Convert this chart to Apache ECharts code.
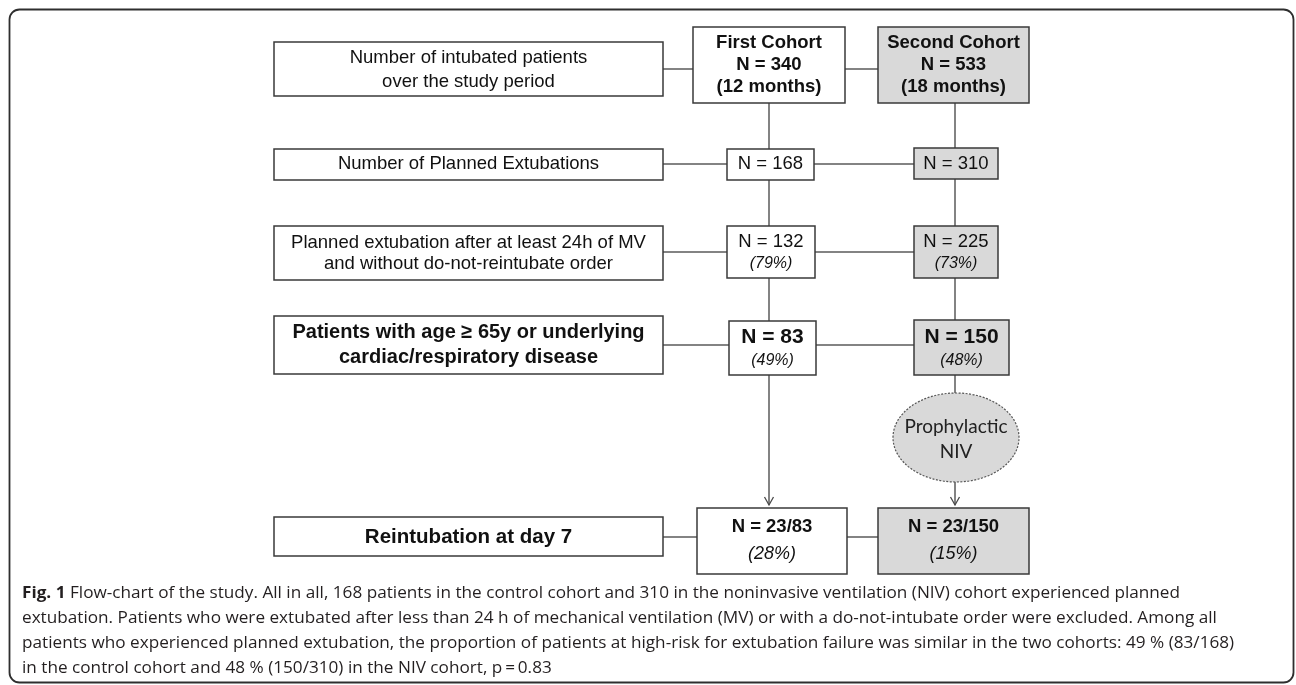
<!DOCTYPE html>
<html><head><meta charset="utf-8">
<script src="https://cdn.jsdelivr.net/npm/echarts@6/dist/echarts.min.js"></script>
<style>html,body{margin:0;padding:0;background:#fff;}#c{width:1296px;height:685px;}</style>
</head><body><div id="c"></div>
<script>
// ---------- DATA ----------
const rowLabels = [
  ['Number of intubated patients', 'over the study period'],
  ['Number of Planned Extubations'],
  ['Planned extubation after at least 24h of MV', 'and without do-not-reintubate order'],
  ['Patients with age \u2265 65y or underlying', 'cardiac/respiratory disease'],
  ['Reintubation at day 7']
];
const cohortNames = ['First Cohort', 'Second Cohort'];
const cohortMonths = [12, 18];
const firstCohortN = ['340', '168', '132', '83', '23/83'];
const firstCohortPct = [null, null, 79, 49, 28];
const secondCohortN = ['533', '310', '225', '150', '23/150'];
const secondCohortPct = [null, null, 73, 48, 15];
const interventionLabel = ['Prophylactic', 'NIV'];
const captionBold = 'Fig. 1';
const captionLines = [
  'Flow-chart of the study. All in all, 168 patients in the control cohort and 310 in the noninvasive ventilation (NIV) cohort experienced planned',
  'extubation. Patients who were extubated after less than 24 h of mechanical ventilation (MV) or with a do-not-intubate order were excluded. Among all',
  'patients who experienced planned extubation, the proportion of patients at high-risk for extubation failure was similar in the two cohorts: 49 % (83/168)',
  'in the control cohort and 48 % (150/310) in the NIV cohort, p\u2009=\u20090.83'
];

// ---------- LAYOUT ----------
const W = 1296, H = 685;
const AR = '"Liberation Sans", Arial, sans-serif';
const labelX = [274, 663];
const labelRowY = [[42, 96], [149, 180], [226, 280], [316, 374], [517, 556]];
const labelTextY = [[58, 82], [164], [243, 264], [332, 357], [537]];
const labelFont = ['18.5px ' + AR, '18.5px ' + AR, '18.5px ' + AR, 'bold 20px ' + AR, 'bold 20.5px ' + AR];
const cohortBoxes = [
  [[693, 845, 27, 103], [727, 814, 149, 180], [727, 815, 226, 278], [729, 816, 321, 375], [697, 847, 508, 574]],
  [[878, 1029, 27, 103], [914, 998, 148, 179], [914, 998, 226, 278], [914, 1009, 320, 375], [878, 1029, 508, 574]]
];
const cohortFill = ['#ffffff', '#d9d9d9'];
const nFont = ['bold 18.5px ' + AR, '18.5px ' + AR, '18.5px ' + AR, 'bold 21px ' + AR, 'bold 18.5px ' + AR];
const pctFont = [null, null, 'italic 16px ' + AR, 'italic 16px ' + AR, 'italic 18px ' + AR];
const nY = [[43, 65, 87], [164], [242, 264], [337, 361], [527, 554]];

// build nodes
const nodes = [];
rowLabels.forEach((lines, r) => {
  nodes.push({
    box: [labelX[0], labelX[1], labelRowY[r][0], labelRowY[r][1]], fill: '#ffffff',
    texts: lines.map((t, i) => ({ text: t, y: labelTextY[r][i], font: labelFont[r] }))
  });
});
const cohortN = [firstCohortN, secondCohortN];
const cohortPct = [firstCohortPct, secondCohortPct];
for (let c = 0; c < 2; c++) {
  for (let r = 0; r < 5; r++) {
    const b = cohortBoxes[c][r];
    const texts = [];
    if (r === 0) {
      texts.push({ text: cohortNames[c], y: nY[0][0], font: nFont[0] });
      texts.push({ text: 'N = ' + cohortN[c][0], y: nY[0][1], font: nFont[0] });
      texts.push({ text: '(' + cohortMonths[c] + ' months)', y: nY[0][2], font: nFont[0] });
    } else {
      texts.push({ text: 'N = ' + cohortN[c][r], y: nY[r][0], font: nFont[r] });
      if (cohortPct[c][r] !== null) texts.push({ text: '(' + cohortPct[c][r] + '%)', y: nY[r][1], font: pctFont[r] });
    }
    nodes.push({ box: b, fill: cohortFill[c], texts });
  }
}

// connectors [x0,y0,x1,y1,arrow]
const xc1 = 769, xc2 = 955;
const links = [
  [663, 69, 693, 69, 0], [845, 69, 878, 69, 0],
  [663, 164, 727, 164, 0], [814, 164, 914, 164, 0],
  [663, 252, 727, 252, 0], [815, 252, 914, 252, 0],
  [663, 345, 729, 345, 0], [816, 345, 914, 345, 0],
  [663, 537, 697, 537, 0], [847, 537, 878, 537, 0],
  [xc1, 103, xc1, 149, 0], [xc1, 180, xc1, 226, 0], [xc1, 278, xc1, 321, 0], [xc1, 375, xc1, 505, 1],
  [xc2, 103, xc2, 148, 0], [xc2, 179, xc2, 226, 0], [xc2, 278, xc2, 320, 0], [xc2, 375, xc2, 393, 0], [xc2, 482, xc2, 505, 1]
];
const ellipseGeom = [956, 437.5, 63, 44.5];

// caption measuring
const CAP_FONT = '"Open Sans", sans-serif';
const CAP_SIZE = 16.5;
const cv = document.createElement('canvas').getContext('2d');
cv.font = 'bold ' + CAP_SIZE + 'px ' + CAP_FONT;
const wb = cv.measureText(captionBold + ' ').width;
cv.font = CAP_SIZE + 'px ' + CAP_FONT;
const wr = cv.measureText(captionLines[0]).width;
const capScale = (1180 - 22) / (wb + wr);
const capY = [593, 618, 643, 668];
const capGraphics = [];
capGraphics.push({ type: 'text', x: 22, y: capY[0], scaleX: capScale, style: { text: captionBold, font: 'bold ' + CAP_SIZE + 'px ' + CAP_FONT, fill: '#231f20', align: 'left', verticalAlign: 'middle' } });
captionLines.forEach((t, i) => {
  capGraphics.push({ type: 'text', x: i === 0 ? 22 + wb * capScale : 22, y: capY[i], scaleX: capScale,
    style: { text: t, font: CAP_SIZE + 'px ' + CAP_FONT, fill: '#231f20', align: 'left', verticalAlign: 'middle' } });
});

const chart = echarts.init(document.getElementById('c'), null, { renderer: 'canvas' });
chart.setOption({
  animation: false,
  backgroundColor: '#ffffff',
  grid: { left: 0, top: 0, width: W, height: H },
  xAxis: { type: 'value', min: 0, max: W, show: false },
  yAxis: { type: 'value', min: 0, max: H, inverse: true, show: false },
  graphic: [
    { type: 'rect', shape: { x: 9.5, y: 9.5, width: 1284, height: 673, r: 10 }, style: { fill: 'none', stroke: '#2e2e2e', lineWidth: 1.8 } },
    ...capGraphics
  ],
  series: [
    {
      type: 'custom', coordinateSystem: 'cartesian2d', silent: true, z: 3,
      data: links,
      renderItem: (params, api) => {
        const a = api.coord([api.value(0), api.value(1)]);
        const b = api.coord([api.value(2), api.value(3)]);
        const ch = [{ type: 'line', shape: { x1: a[0], y1: a[1], x2: b[0], y2: b[1] }, style: { stroke: '#5a5a5a', lineWidth: 1.5 } }];
        if (api.value(4) === 1) {
          ch.push({ type: 'polyline', shape: { points: [[b[0] - 4.5, b[1] - 8], [b[0], b[1]], [b[0] + 4.5, b[1] - 8]] }, style: { stroke: '#4a4a4a', lineWidth: 1.3, fill: 'none' } });
        }
        return { type: 'group', children: ch };
      }
    },
    {
      type: 'custom', coordinateSystem: 'cartesian2d', silent: true, z: 4,
      data: nodes.map(n => [n.box[0], n.box[2], n.box[1], n.box[3]]),
      renderItem: (params, api) => {
        const n = nodes[params.dataIndex];
        const p0 = api.coord([api.value(0), api.value(1)]);
        const p1 = api.coord([api.value(2), api.value(3)]);
        const cx = (p0[0] + p1[0]) / 2;
        const ch = [{ type: 'rect', shape: { x: p0[0], y: p0[1], width: p1[0] - p0[0], height: p1[1] - p0[1] }, style: { fill: n.fill, stroke: '#3a3a3a', lineWidth: 1.5 } }];
        n.texts.forEach(t => {
          const py = api.coord([0, t.y])[1];
          ch.push({ type: 'text', x: cx, y: py, style: { text: t.text, font: t.font, fill: '#111111', align: 'center', verticalAlign: 'middle' } });
        });
        return { type: 'group', children: ch };
      }
    },
    {
      type: 'custom', coordinateSystem: 'cartesian2d', silent: true, z: 4,
      data: [ellipseGeom],
      renderItem: (params, api) => {
        const c = api.coord([api.value(0), api.value(1)]);
        const e = api.coord([api.value(0) + api.value(2), api.value(1) + api.value(3)]);
        const rx = e[0] - c[0], ry = e[1] - c[1];
        return { type: 'group', children: [
          { type: 'ellipse', shape: { cx: c[0], cy: c[1], rx: rx, ry: ry }, style: { fill: '#d9d9d9', stroke: '#555555', lineWidth: 1.2, lineDash: [2, 1.5] } },
          { type: 'text', x: c[0], y: c[1] - 11, style: { text: interventionLabel[0], font: '19px Lato, sans-serif', fill: '#222', align: 'center', verticalAlign: 'middle' } },
          { type: 'text', x: c[0], y: c[1] + 14, style: { text: interventionLabel[1], font: '19px Lato, sans-serif', fill: '#222', align: 'center', verticalAlign: 'middle' } }
        ] };
      }
    }
  ]
});
</script>
</body></html>
